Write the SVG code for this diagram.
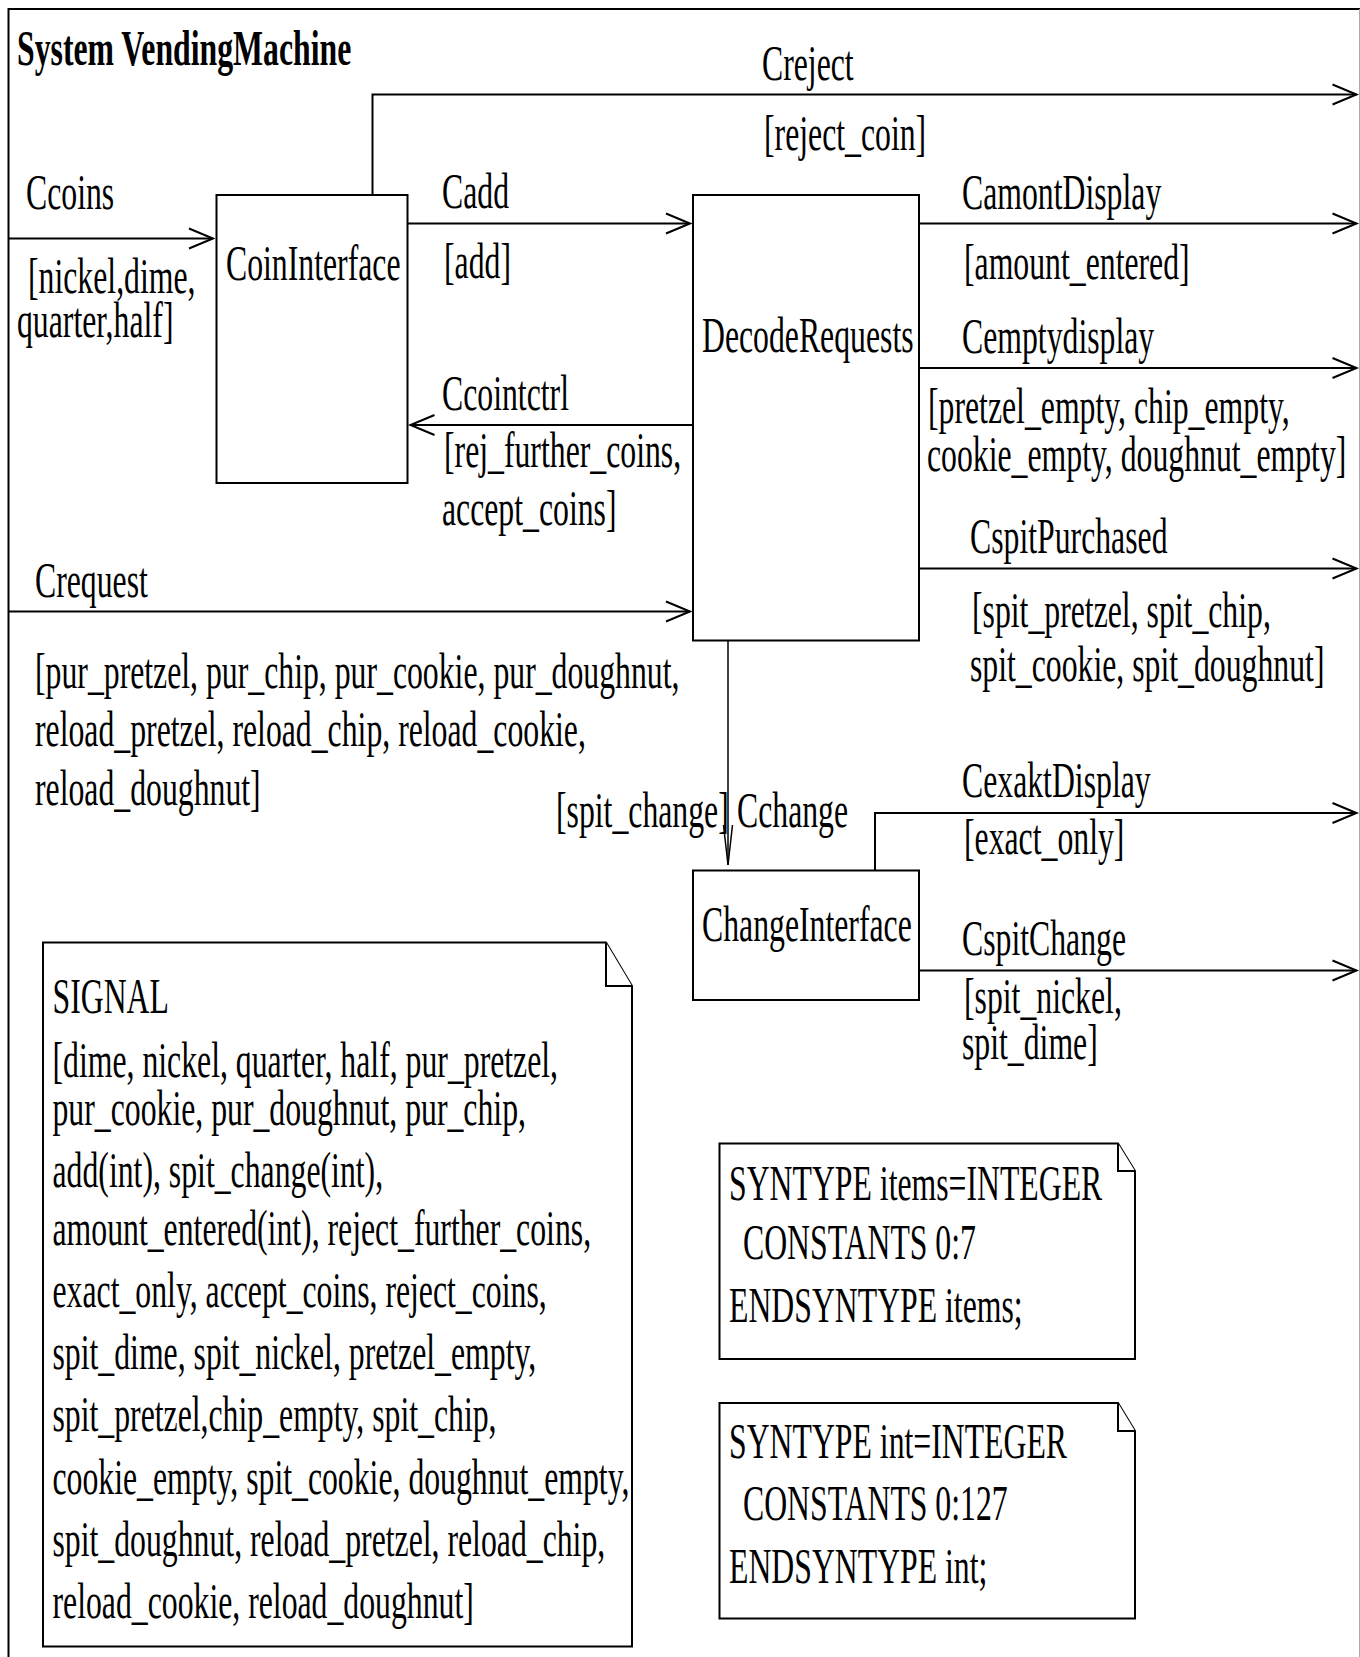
<svg xmlns="http://www.w3.org/2000/svg" width="1360" height="1657" viewBox="0 0 1360 1657">
  <style>
    .t { font-family: "Liberation Serif", "Times New Roman", serif; font-size: 50px; fill: #000; }
    .b { font-weight: bold; }
    .box { fill: #fff; stroke: #000; stroke-width: 2; }
    .ch { fill: none; stroke: #000; stroke-width: 2; }
    .thin { fill: none; stroke: #000; stroke-width: 1.5; }
    .note { fill: #fff; stroke: #000; stroke-width: 2; stroke-linejoin: miter; }
  </style>
  <defs>
    <!-- open arrowhead for horizontal channels -->
    <marker id="arr" markerUnits="userSpaceOnUse" orient="auto" refX="0" refY="0" markerWidth="30" markerHeight="26" viewBox="-27 -13 30 26" overflow="visible">
      <path d="M-24,-10 L0,0 L-24,10" fill="none" stroke="#000" stroke-width="2"/>
    </marker>
    <!-- narrow open arrowhead for the vertical channel -->
    <marker id="arrNarrow" markerUnits="userSpaceOnUse" orient="auto" refX="0" refY="0" markerWidth="44" markerHeight="12" viewBox="-42 -6 44 12" overflow="visible">
      <path d="M-40,-4.5 L0,0 L-40,4.5" fill="none" stroke="#000" stroke-width="1.5"/>
    </marker>
  </defs>

  <rect width="1360" height="1657" fill="#fff"/>

  <!-- system frame -->
  <g id="frame">
    <path d="M8.5 1657 V9 H1360" fill="none" stroke="#000" stroke-width="2"/>
    <line x1="1359.5" y1="9" x2="1359.5" y2="1657" stroke="#aaa" stroke-width="1"/>
    <text class="t b" transform="translate(17 65) scale(.635 1)">System VendingMachine</text>
  </g>

  <!-- channels -->
  <g id="connectors">
    <path id="Ccoins" class="ch" d="M9 238.5 H213" marker-end="url(#arr)"/>
    <path id="Creject" class="ch" d="M372.5 195 V94.5 H1356.5" marker-end="url(#arr)"/>
    <path id="Cadd" class="ch" d="M407 223.5 H690" marker-end="url(#arr)"/>
    <path id="Ccointctrl" class="ch" d="M693 425 H410.5" marker-end="url(#arr)"/>
    <path id="Crequest" class="ch" d="M9 611.5 H690" marker-end="url(#arr)"/>
    <path id="CamontDisplay" class="ch" d="M918.5 223.5 H1356.5" marker-end="url(#arr)"/>
    <path id="Cemptydisplay" class="ch" d="M918.5 368 H1356.5" marker-end="url(#arr)"/>
    <path id="CspitPurchased" class="ch" d="M918.5 568.5 H1356.5" marker-end="url(#arr)"/>
    <path id="Cchange" class="thin" d="M728 640.5 V865" marker-end="url(#arrNarrow)"/>
    <path id="CexaktDisplay" class="ch" d="M875 870.5 V813 H1356.5" marker-end="url(#arr)"/>
    <path id="CspitChange" class="ch" d="M918.5 970.5 H1356.5" marker-end="url(#arr)"/>

    <!-- channel labels and signal lists -->
    <g id="labels">
      <text class="t" transform="translate(26 208.5) scale(.635 1)">Ccoins</text>
      <text class="t" transform="translate(28 293) scale(.635 1)">[nickel,dime,</text>
      <text class="t" transform="translate(17 337) scale(.635 1)">quarter,half]</text>

      <text class="t" transform="translate(762 80) scale(.635 1)">Creject</text>
      <text class="t" transform="translate(764 150) scale(.635 1)">[reject_coin]</text>

      <text class="t" transform="translate(442 208) scale(.635 1)">Cadd</text>
      <text class="t" transform="translate(444 278) scale(.635 1)">[add]</text>

      <text class="t" transform="translate(442 410) scale(.635 1)">Ccointctrl</text>
      <text class="t" transform="translate(444 467) scale(.635 1)">[rej_further_coins,</text>
      <text class="t" transform="translate(442 525) scale(.635 1)">accept_coins]</text>

      <text class="t" transform="translate(35 597) scale(.635 1)">Crequest</text>
      <text class="t" transform="translate(35 688) scale(.635 1)">[pur_pretzel, pur_chip, pur_cookie, pur_doughnut,</text>
      <text class="t" transform="translate(35 746) scale(.635 1)">reload_pretzel, reload_chip, reload_cookie,</text>
      <text class="t" transform="translate(35 805) scale(.635 1)">reload_doughnut]</text>

      <text class="t" transform="translate(962 209) scale(.635 1)">CamontDisplay</text>
      <text class="t" transform="translate(964 279) scale(.635 1)">[amount_entered]</text>

      <text class="t" transform="translate(962 352.5) scale(.635 1)">Cemptydisplay</text>
      <text class="t" transform="translate(928 423) scale(.635 1)">[pretzel_empty, chip_empty,</text>
      <text class="t" transform="translate(927 471) scale(.635 1)">cookie_empty, doughnut_empty]</text>

      <text class="t" transform="translate(970 553) scale(.635 1)">CspitPurchased</text>
      <text class="t" transform="translate(972 627) scale(.635 1)">[spit_pretzel, spit_chip,</text>
      <text class="t" transform="translate(970 681) scale(.635 1)">spit_cookie, spit_doughnut]</text>

      <text class="t" transform="translate(556 827) scale(.635 1)">[spit_change]</text>
      <text class="t" transform="translate(737 827) scale(.635 1)">Cchange</text>

      <text class="t" transform="translate(962 797) scale(.635 1)">CexaktDisplay</text>
      <text class="t" transform="translate(964 854) scale(.635 1)">[exact_only]</text>

      <text class="t" transform="translate(962 955) scale(.635 1)">CspitChange</text>
      <text class="t" transform="translate(964 1013) scale(.635 1)">[spit_nickel,</text>
      <text class="t" transform="translate(962 1059) scale(.635 1)">spit_dime]</text>
    </g>
  </g>

  <!-- blocks -->
  <g id="CoinInterface">
    <rect class="box" x="216.5" y="195" width="191" height="288"/>
    <text class="t" transform="translate(226 279.5) scale(.635 1)">CoinInterface</text>
  </g>

  <g id="DecodeRequests">
    <rect class="box" x="693" y="195" width="226" height="445.5"/>
    <text class="t" transform="translate(702 352) scale(.635 1)">DecodeRequests</text>
  </g>

  <g id="ChangeInterface">
    <rect class="box" x="693" y="870.5" width="226" height="129.5"/>
    <text class="t" transform="translate(702 941) scale(.635 1)">ChangeInterface</text>
  </g>

  <!-- text symbols (declarations) -->
  <g id="SignalDecl">
    <path class="note" d="M43 942.5 H606 L632 986 V1646.5 H43 Z"/>
    <path class="note" d="M606 942.5 V986 H632" fill="none"/>
    <text class="t" transform="translate(52.5 1013) scale(.635 1)">SIGNAL</text>
    <text class="t" transform="translate(52.5 1077) scale(.635 1)">[dime, nickel, quarter, half, pur_pretzel,</text>
    <text class="t" transform="translate(52.5 1125) scale(.635 1)">pur_cookie, pur_doughnut, pur_chip,</text>
    <text class="t" transform="translate(52.5 1187) scale(.635 1)">add(int), spit_change(int),</text>
    <text class="t" transform="translate(52.5 1245) scale(.635 1)">amount_entered(int), reject_further_coins,</text>
    <text class="t" transform="translate(52.5 1307) scale(.635 1)">exact_only, accept_coins, reject_coins,</text>
    <text class="t" transform="translate(52.5 1369) scale(.635 1)">spit_dime, spit_nickel, pretzel_empty,</text>
    <text class="t" transform="translate(52.5 1431) scale(.635 1)">spit_pretzel,chip_empty, spit_chip,</text>
    <text class="t" transform="translate(52.5 1494) scale(.635 1)">cookie_empty, spit_cookie, doughnut_empty,</text>
    <text class="t" transform="translate(52.5 1556) scale(.635 1)">spit_doughnut, reload_pretzel, reload_chip,</text>
    <text class="t" transform="translate(52.5 1618) scale(.635 1)">reload_cookie, reload_doughnut]</text>
  </g>

  <g id="SyntypeItems">
    <path class="note" d="M719.5 1143.5 H1118 L1135 1171 V1359 H719.5 Z"/>
    <path class="note" d="M1118 1143.5 V1171 H1135" fill="none"/>
    <text class="t" transform="translate(729 1200) scale(.635 1)">SYNTYPE items=INTEGER</text>
    <text class="t" transform="translate(743 1259) scale(.635 1)">CONSTANTS 0:7</text>
    <text class="t" transform="translate(729 1322) scale(.635 1)">ENDSYNTYPE items;</text>
  </g>

  <g id="SyntypeInt">
    <path class="note" d="M719.5 1403 H1118 L1135 1431 V1618.5 H719.5 Z"/>
    <path class="note" d="M1118 1403 V1431 H1135" fill="none"/>
    <text class="t" transform="translate(729 1458) scale(.635 1)">SYNTYPE int=INTEGER</text>
    <text class="t" transform="translate(743 1520) scale(.635 1)">CONSTANTS 0:127</text>
    <text class="t" transform="translate(729 1583) scale(.635 1)">ENDSYNTYPE int;</text>
  </g>
</svg>
